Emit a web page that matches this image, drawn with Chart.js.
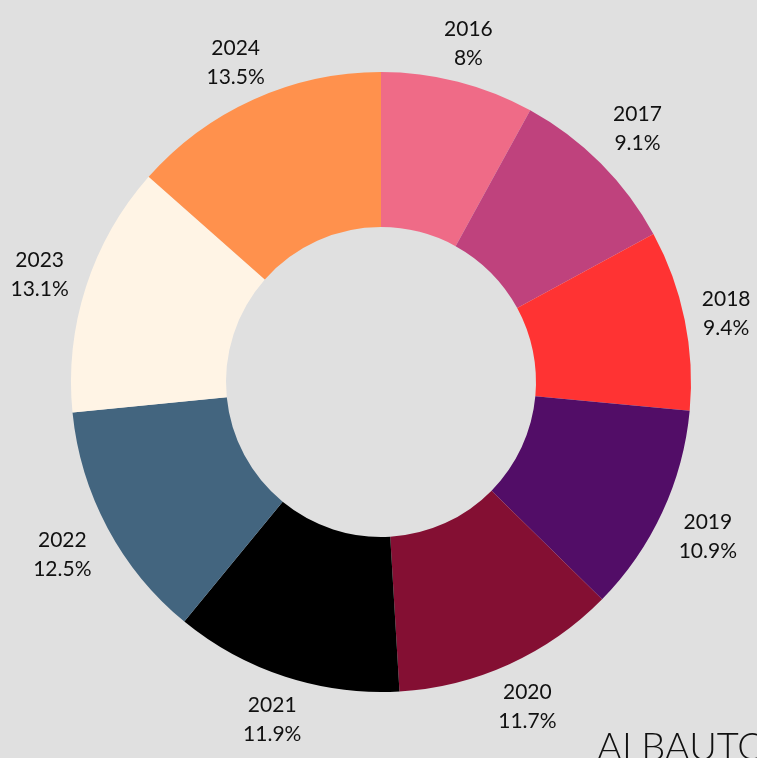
<!DOCTYPE html>
<html>
<head>
<meta charset="utf-8">
<script src="https://cdn.jsdelivr.net/npm/chart.js@4/dist/chart.umd.min.js"></script>
<style>
html,body{margin:0;padding:0;background:#e0e0e0;overflow:hidden;}
#wrap{position:relative;width:757px;height:758px;overflow:hidden;}
#wm{position:absolute;left:597px;top:722px;font-family:Lato,sans-serif;font-weight:300;font-size:38px;color:#111;letter-spacing:0px;white-space:nowrap;}
</style>
</head>
<body>
<div id="wrap">
<canvas id="c" width="757" height="758"></canvas>
<div id="wm">ALBAUTO</div>
</div>
<script>
const categories = ["2016","2017","2018","2019","2020","2021","2022","2023","2024"];
const values = [8, 9.1, 9.4, 10.9, 11.7, 11.9, 12.5, 13.1, 13.5];
const percentLabels = ["8%","9.1%","9.4%","10.9%","11.7%","11.9%","12.5%","13.1%","13.5%"];
const colors = ["#EF6B87","#BF427D","#FF3333","#520D67","#840F33","#000000","#43657F","#FFF4E5","#FF914D"];

const outsideLabels = {
  id: 'outsideLabels',
  afterDatasetsDraw(chart) {
    const ctx = chart.ctx;
    const meta = chart.getDatasetMeta(0);
    ctx.save();
    ctx.font = '21px Lato, sans-serif';
    ctx.fillStyle = '#111';
    ctx.textAlign = 'center';
    ctx.textBaseline = 'middle';
    meta.data.forEach((arc, i) => {
      const p = arc.getProps(['x','y','startAngle','endAngle','outerRadius'], true);
      const mid = (p.startAngle + p.endAngle) / 2;
      const dx = Math.cos(mid), dy = Math.sin(mid);
      const w = 1.1 * Math.max(ctx.measureText(categories[i]).width, ctx.measureText(percentLabels[i]).width);
      const h = 52;
      const ext = Math.min(Math.abs(dx) > 1e-6 ? (w / 2) / Math.abs(dx) : 1e9,
                           Math.abs(dy) > 1e-6 ? (h / 2) / Math.abs(dy) : 1e9);
      const r = p.outerRadius + 15 + ext;
      const x = p.x + dx * r;
      const y = p.y + dy * r + 2;
      ctx.fillText(categories[i], x, y - 14);
      ctx.fillText(percentLabels[i], x, y + 15);
    });
    ctx.restore();
  }
};

new Chart(document.getElementById('c'), {
  type: 'doughnut',
  data: {
    labels: categories,
    datasets: [{
      data: values,
      backgroundColor: colors,
      borderWidth: 0
    }]
  },
  options: {
    responsive: false,
    animation: false,
    cutout: '50%',
    layout: { padding: { left: 71, right: 66, top: 72, bottom: 66 } },
    plugins: { legend: { display: false }, tooltip: { enabled: false } }
  },
  plugins: [outsideLabels]
});
</script>
</body>
</html>
